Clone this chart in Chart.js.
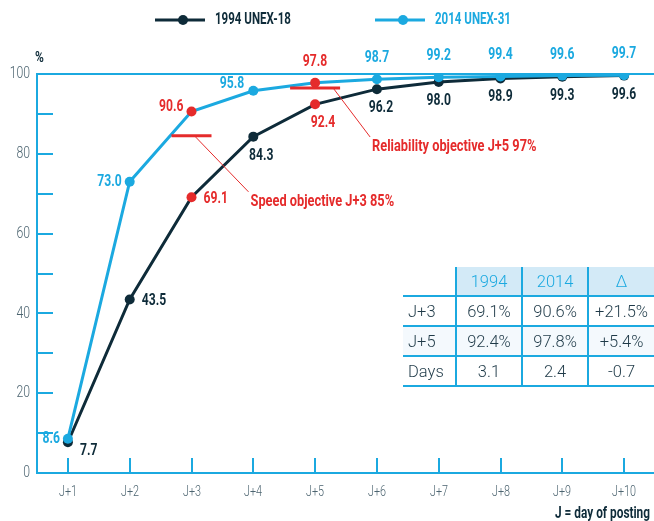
<!DOCTYPE html>
<html>
<head>
<meta charset="utf-8">
<script src="https://cdn.jsdelivr.net/npm/chart.js@4.4.1/dist/chart.umd.min.js"></script>
<style>
  body { margin: 0; background: #fff; width: 654px; height: 521px; overflow: hidden; position: relative; }
  #chart { position: absolute; left: 0; top: 0; }
  #summary { position: absolute; left: 403px; top: 267px; border-collapse: collapse;
             font-family: Roboto, 'Open Sans', sans-serif; font-size: 16.5px; color: #1f3a48; font-weight: 300; }
  #summary td, #summary th { height: 28px; padding: 0; text-align: center; font-weight: 300;
             border-bottom: 2px solid #1ba9e0; }
  #summary th { background: #d3eaf7; color: #1ba9e0; border-left: 2px solid #1ba9e0; }
  #summary th.blank { background: transparent; border-left: none; }
  #summary td { border-left: 2px solid #1ba9e0; }
  #summary td.rowhead { border-left: none; text-align: left; padding-left: 5px; }
  #summary tr.shade td { background: #f4f9fd; }
</style>
</head>
<body>
<canvas id="chart" width="660" height="521"></canvas>
<table id="summary"></table>
<script>
const days = ['J+1', 'J+2', 'J+3', 'J+4', 'J+5', 'J+6', 'J+7', 'J+8', 'J+9', 'J+10'];
const unex1994 = [7.7, 43.5, 69.1, 84.3, 92.4, 96.2, 98.0, 98.9, 99.3, 99.6];
const unex2014 = [8.6, 73.0, 90.6, 95.8, 97.8, 98.7, 99.2, 99.4, 99.6, 99.7];
const seriesNames = ['1994 UNEX-18', '2014 UNEX-31'];
const yTickLabels = [0, 20, 40, 60, 80, 100];
const highlightDays = [2, 4]; // J+3 and J+5 shown in red
const objectiveNames = ['Speed objective J+3 85%', 'Reliability objective J+5 97%'];
const objectiveValues = [85, 97];
const objectiveDays = [2, 4];

const tableHeader = ['', '1994', '2014', '\u0394'];
const tableRows = ['J+3', 'J+5', 'Days'];
const table1994 = ['69.1%', '92.4%', '3.1'];
const table2014 = ['90.6%', '97.8%', '2.4'];
const tableDelta = ['+21.5%', '+5.4%', '-0.7'];

const DARK = '#0e2b39';
const CYAN = '#1ba9e0';
const RED = '#e52b2b';
const GREY = '#4c6470';
const FONT = "Roboto, 'Open Sans', sans-serif";

// summary table
const tbl = document.getElementById('summary');
let html = '<tr>' + tableHeader.map((h, i) => i === 0
  ? '<th class="blank" style="width:53px"></th>'
  : '<th style="width:66px">' + h + '</th>').join('') + '</tr>';
tableRows.forEach((r, i) => {
  html += '<tr' + (i === 1 ? ' class="shade"' : '') + '><td class="rowhead">' + r + '</td><td>' +
    table1994[i] + '</td><td>' + table2014[i] + '</td><td>' + tableDelta[i] + '</td></tr>';
});
tbl.innerHTML = html;

// narrow text: the original uses a condensed face, so squeeze horizontally
function narrowText(c, text, x, y, align, font, color, sx) {
  c.save();
  c.font = font;
  c.fillStyle = color;
  c.textAlign = align;
  c.textBaseline = 'middle';
  c.translate(x, y);
  c.scale(sx, 1);
  c.fillText(text, 0, 0);
  c.restore();
}

// label placement per series: [align, dx, dy]
function labelPlace(ds, i) {
  if (ds === 0) {
    if (i === 0) return ['left', 12, 9];
    if (i < 3) return ['left', 12, 2];
    return ['center', i < 5 ? 8 : (i === 5 ? 4 : 0), 19];
  }
  if (i < 3) return ['right', -8, i === 2 ? -5 : 0];
  if (i === 3) return ['right', -9, -7];
  return ['center', 0, -21];
}

const extras = {
  id: 'extras',
  afterDraw(chart) {
    const c = chart.ctx;
    const x = chart.scales.x, y = chart.scales.y;
    const area = chart.chartArea;
    c.save();
    // inward ticks
    c.strokeStyle = CYAN;
    c.lineWidth = 2;
    for (let v = 10; v < 100; v += 10) {
      const py = Math.round(y.getPixelForValue(v));
      c.beginPath(); c.moveTo(area.left, py); c.lineTo(area.left + 16, py); c.stroke();
    }
    days.forEach((d, i) => {
      const px = Math.round(x.getPixelForValue(i));
      c.beginPath(); c.moveTo(px, area.bottom); c.lineTo(px, area.bottom - 15); c.stroke();
      narrowText(c, d, px, area.bottom + 19, 'center', '300 15px ' + FONT, GREY, 0.72);
    });
    yTickLabels.forEach(v => {
      narrowText(c, String(v), area.left - 7, y.getPixelForValue(v), 'right', '300 17px ' + FONT, GREY, 0.72);
    });

    // objectives
    const bars = [[20, 3, 57, 56], [25, 18, 55, 49]];
    objectiveValues.forEach((v, k) => {
      const cx = x.getPixelForValue(objectiveDays[k]);
      const cy = y.getPixelForValue(v) + 2;
      const [hw, sx, ex, ey] = bars[k];
      c.strokeStyle = RED;
      c.lineWidth = 3;
      c.beginPath(); c.moveTo(cx - hw, cy); c.lineTo(cx + hw, cy); c.stroke();
      c.lineWidth = 1;
      c.beginPath(); c.moveTo(cx + sx, cy); c.lineTo(cx + ex, cy + ey); c.stroke();
      narrowText(c, objectiveNames[k], cx + ex + 2, cy + ey + 10, 'left', 'bold 16px ' + FONT, RED, 0.8);
    });

    // value labels
    chart.data.datasets.forEach((ds, d) => {
      chart.getDatasetMeta(d).data.forEach((pt, i) => {
        const [al, dx, dy] = labelPlace(d, i);
        const col = highlightDays.includes(i) ? RED : (d === 0 ? DARK : CYAN);
        narrowText(c, ds.data[i].toFixed(1), pt.x + dx, pt.y + dy, al, 'bold 16px ' + FONT, col, 0.76);
      });
    });

    // legend
    const legX = [155, 375];
    chart.data.datasets.forEach((ds, d) => {
      const lx = legX[d];
      c.strokeStyle = ds.borderColor;
      c.lineWidth = 3;
      c.beginPath(); c.moveTo(lx, 20); c.lineTo(lx + 50, 20); c.stroke();
      c.fillStyle = ds.borderColor;
      c.beginPath(); c.arc(lx + 28, 20, 5, 0, Math.PI * 2); c.fill();
      narrowText(c, ds.label, lx + 60, 20, 'left', 'bold 16px ' + FONT, ds.borderColor, 0.72);
    });

    // unit and axis title
    narrowText(c, '%', 35, 58, 'left', 'bold 15px ' + FONT, DARK, 0.8);
    narrowText(c, 'J = day of posting', 650, 514, 'right', 'bold 16px ' + FONT, DARK, 0.74);
    c.restore();
  }
};

new Chart(document.getElementById('chart'), {
  type: 'line',
  data: {
    labels: days,
    datasets: [
      {
        label: seriesNames[0], data: unex1994, borderColor: DARK, borderWidth: 3, order: 1,
        pointRadius: 5, pointBorderWidth: 0, pointHoverRadius: 5,
        pointBackgroundColor: days.map((d, i) => highlightDays.includes(i) ? RED : DARK),
        tension: 0
      },
      {
        label: seriesNames[1], data: unex2014, borderColor: CYAN, borderWidth: 3, order: 0,
        pointRadius: 5, pointBorderWidth: 0, pointHoverRadius: 5,
        pointBackgroundColor: days.map((d, i) => highlightDays.includes(i) ? RED : CYAN),
        tension: 0
      }
    ]
  },
  options: {
    responsive: false,
    animation: false,
    layout: { padding: { top: 74, right: 0, left: 0, bottom: 0 } },
    plugins: { legend: { display: false }, tooltip: { enabled: false } },
    scales: {
      x: {
        offset: true,
        grid: { display: false },
        border: { color: CYAN, width: 2 },
        ticks: { display: false },
        afterFit: s => { s.height = 48; }
      },
      y: {
        min: 0, max: 100,
        ticks: { display: false, stepSize: 10 },
        grid: {
          drawTicks: false, lineWidth: 2,
          color: c => (c.tick && c.tick.value === 100 ? CYAN : 'rgba(0,0,0,0)')
        },
        border: { color: CYAN, width: 2 },
        afterFit: s => { s.width = 37; }
      }
    }
  },
  plugins: [extras]
});
</script>
</body>
</html>
